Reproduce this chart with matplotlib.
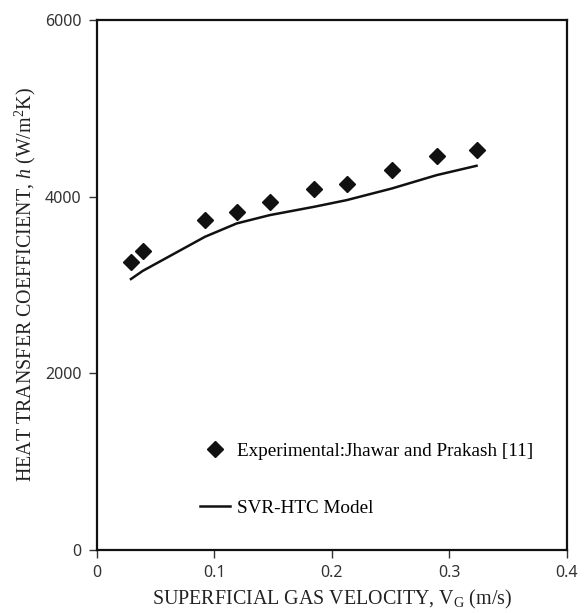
import matplotlib
matplotlib.use("Agg")
import matplotlib.pyplot as plt

# experimental data (Jhawar and Prakash)
vg_exp = [0.029, 0.039, 0.092, 0.119, 0.147, 0.185, 0.2125, 0.251, 0.289, 0.323]
h_exp = [3264, 3385, 3732, 3827, 3943, 4087, 4143, 4302, 4464, 4532]

# SVR-HTC model
vg_mod = [0.029, 0.039, 0.092, 0.119, 0.147, 0.185, 0.2125, 0.251, 0.289, 0.323]
h_mod = [3068, 3160, 3547, 3698, 3792, 3887, 3962, 4094, 4245, 4351]

plt.rcParams['font.family'] = ['Liberation Serif', 'DejaVu Serif']
plt.rcParams['mathtext.fontset'] = 'custom'
plt.rcParams['mathtext.rm'] = 'Liberation Serif'
plt.rcParams['mathtext.it'] = 'Liberation Serif:italic'

fig = plt.figure(figsize=(5.87, 6.13), dpi=100)
ax = fig.add_axes([0.165, 0.103, 0.801, 0.864])

ax.plot(vg_exp, h_exp, linestyle='none', marker='D', markersize=8.5, color='#111111',
        label='Experimental:Jhawar and Prakash [11]')
ax.plot(vg_mod, h_mod, color='#111111', linewidth=1.8, label='SVR-HTC Model')

ax.set_xlim(0, 0.4)
ax.set_ylim(0, 6000)
ax.set_xticks([0, 0.1, 0.2, 0.3, 0.4])
ax.set_xticklabels(['0', '0.1', '0.2', '0.3', '0.4'])
ax.set_yticks([0, 2000, 4000, 6000])
ax.tick_params(direction='out', length=6, width=1, labelsize=11.5, colors='#333333', pad=5)
for lab in ax.get_xticklabels() + ax.get_yticklabels():
    lab.set_family('Noto Sans')
    lab.set_color('#333333')

for s in ax.spines.values():
    s.set_linewidth(1.6)
    s.set_color('#111111')

ax.set_xlabel(r'SUPERFICIAL GAS VELOCITY, V$_{\mathrm{G}}$ (m/s)', fontsize=14.4, color='#222222', labelpad=5)
ax.set_ylabel(r'HEAT TRANSFER COEFFICIENT, $h$ (W/m$^2$K)', fontsize=14.4, color='#222222', labelpad=5)

ax.legend(loc='lower left', bbox_to_anchor=(0.183, 0.03), frameon=False, fontsize=13.8,
          labelspacing=2.05, handlelength=1.55, handletextpad=0.35, numpoints=1)

fig.savefig('out.png', dpi=100)
